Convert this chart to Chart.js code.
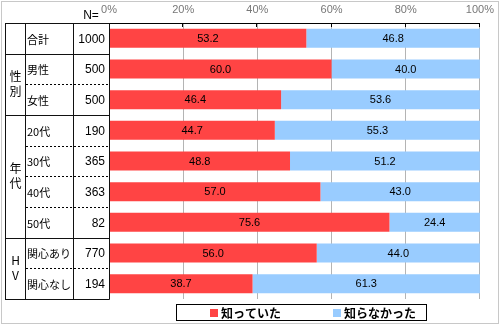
<!DOCTYPE html>
<html><head><meta charset="utf-8">
<script src="https://cdn.jsdelivr.net/npm/chart.js@4/dist/chart.umd.min.js"></script>
<style>html,body{margin:0;padding:0;background:#fff;}</style>
</head><body>
<canvas id="c" width="500" height="326"></canvas>
<script>
// ---- data ----
const categories = ['合計','男性','女性','20代','30代','40代','50代','関心あり','関心なし'];
const sampleSizes = [1000, 500, 500, 190, 365, 363, 82, 770, 194];
const knew = [53.2, 60.0, 46.4, 44.7, 48.8, 57.0, 75.6, 56.0, 38.7];
const didNotKnow = [46.8, 40.0, 53.6, 55.3, 51.2, 43.0, 24.4, 44.0, 61.3];
const seriesNames = ['知っていた', '知らなかった'];
const groupLabels = ['', '性別', '年代', 'HV'];
const groupSizes = [1, 2, 4, 2];
const xTicks = [0, 20, 40, 60, 80, 100];
const nHeader = 'N=';

const RED = '#FF4444', BLUE = '#99CCFF';
const JP = '"Noto Sans CJK JP", sans-serif';
const LAT = '"Liberation Sans", Arial, sans-serif';

const tablePlugin = {
  id: 'tablePlugin',
  afterDatasetsDraw(chart) {
    const ctx = chart.ctx;
    ctx.save();
    ctx.fillStyle = '#000';
    ctx.font = '11px ' + LAT;
    ctx.textAlign = 'center';
    ctx.textBaseline = 'middle';
    [knew, didNotKnow].forEach((arr, d) => {
      const meta = chart.getDatasetMeta(d);
      meta.data.forEach((el, i) => {
        ctx.fillText(arr[i].toFixed(1), (el.x + el.base) / 2, el.y + 0.5);
      });
    });
    ctx.restore();
  },
  afterDraw(chart) {
    const ctx = chart.ctx;
    const area = chart.chartArea;
    const ys = chart.scales.y;
    const xs = chart.scales.x;
    const n = categories.length;
    const step = (area.bottom - area.top) / n;
    const rowTop = i => ys.getPixelForValue(i) - step / 2;
    const rowBot = i => ys.getPixelForValue(i) + step / 2;
    const X0 = 5, X1 = 25, X2 = 73, X3 = area.left - 0.5;
    ctx.save();
    // black small ticks under axis line
    ctx.strokeStyle = '#000';
    ctx.lineWidth = 1;
    xTicks.forEach(v => {
      if (v === 0) return;
      const x = Math.round(xs.getPixelForValue(v)) - 0.5;
      ctx.beginPath(); ctx.moveTo(x, area.top); ctx.lineTo(x, area.top + 4); ctx.stroke();
    });
    // table
    const top = Math.round(rowTop(0)) + 0.5;
    const bot = Math.round(rowBot(n - 1)) + 0.5;
    ctx.strokeStyle = '#111';
    [X0, X1, X2, X3].forEach(x => {
      const xx = Math.round(x) + 0.5;
      ctx.beginPath(); ctx.moveTo(xx, top); ctx.lineTo(xx, bot); ctx.stroke();
    });
    ctx.beginPath(); ctx.moveTo(X0, top); ctx.lineTo(X3 + 1, top); ctx.stroke();
    let idx = 0;
    groupSizes.forEach((sz, g) => {
      const gTop = rowTop(idx), gBot = rowBot(idx + sz - 1);
      const yb = Math.round(gBot) + 0.5;
      ctx.strokeStyle = '#111';
      ctx.setLineDash([]);
      ctx.beginPath(); ctx.moveTo(X0, yb); ctx.lineTo(X3 + 1, yb); ctx.stroke();
      // dotted inner lines
      ctx.strokeStyle = '#000';
      ctx.setLineDash([2, 2]);
      for (let k = 1; k < sz; k++) {
        const y = Math.round(rowTop(idx + k)) + 0.5;
        ctx.beginPath(); ctx.moveTo(X1 + 1, y); ctx.lineTo(X3, y); ctx.stroke();
      }
      ctx.setLineDash([]);
      // vertical group label
      const chars = Array.from(groupLabels[g]);
      const lh = 15;
      const cy = (gTop + gBot) / 2;
      ctx.fillStyle = '#000';
      ctx.font = '12px ' + JP;
      ctx.textAlign = 'center';
      ctx.textBaseline = 'middle';
      chars.forEach((c, k) => {
        ctx.fillText(c, 15.5, cy - (chars.length - 1) * lh / 2 + k * lh);
      });
      idx += sz;
    });
    // row labels and N
    categories.forEach((c, i) => {
      const cy = ys.getPixelForValue(i) + 1;
      ctx.fillStyle = '#000';
      ctx.font = '11px ' + JP;
      ctx.textAlign = 'left';
      ctx.textBaseline = 'middle';
      ctx.fillText(c, 27, cy);
      ctx.font = '12px ' + LAT;
      ctx.textAlign = 'right';
      ctx.fillText(String(sampleSizes[i]), 105, cy);
    });
    // N= header
    ctx.font = '12px ' + LAT;
    ctx.textAlign = 'center';
    ctx.textBaseline = 'middle';
    ctx.fillText(nHeader, 91, 16);
    // legend
    ctx.strokeStyle = '#000';
    ctx.lineWidth = 1;
    ctx.strokeRect(176.5, 304.5, 250, 16);
    const items = [[RED, 210], [BLUE, 333]];
    items.forEach(([col, x], k) => {
      ctx.fillStyle = col;
      ctx.fillRect(x, 309, 8, 8);
      ctx.fillStyle = '#000';
      ctx.font = 'bold 12px ' + JP;
      ctx.textAlign = 'left';
      ctx.textBaseline = 'middle';
      ctx.fillText(seriesNames[k], x + 11, 313);
    });
    // outer border
    ctx.strokeStyle = '#C8C8C8';
    ctx.strokeRect(1.5, 1.5, 497, 322);
    ctx.restore();
  }
};

new Chart(document.getElementById('c'), {
  type: 'bar',
  data: {
    labels: categories,
    datasets: [
      { label: seriesNames[0], data: knew, backgroundColor: RED },
      { label: seriesNames[1], data: didNotKnow, backgroundColor: BLUE }
    ]
  },
  options: {
    indexAxis: 'y',
    responsive: false,
    animation: false,
    devicePixelRatio: 1,
    layout: { padding: { left: 109, right: 17, top: 0, bottom: 27 } },
    datasets: { bar: { barPercentage: 0.62, categoryPercentage: 1 } },
    plugins: { legend: { display: false }, tooltip: { enabled: false } },
    scales: {
      x: {
        position: 'top', stacked: true, min: 0, max: 100,
        afterBuildTicks: s => { s.ticks = xTicks.map(v => ({ value: v })); },
        ticks: { callback: v => v + '%', color: '#777', font: { size: 11, family: LAT }, padding: 6, maxRotation: 0 },
        grid: { color: '#B4B4B4', drawTicks: false },
        border: { display: true, color: '#000' },
        afterFit: s => { s.height = 23; }
      },
      y: { display: false, stacked: true }
    }
  },
  plugins: [tablePlugin]
});
</script>
</body></html>
